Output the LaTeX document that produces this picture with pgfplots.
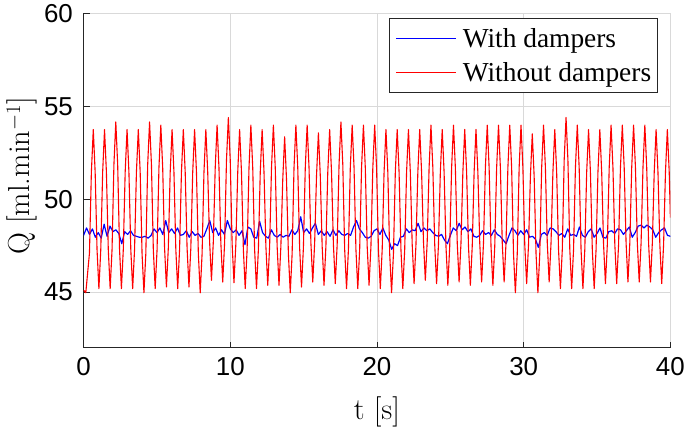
\documentclass[border=0pt]{standalone}
\usepackage{fontspec}
\usepackage{pgfplots}
\pgfplotsset{compat=1.18}
\newfontfamily\tickfont{Liberation Sans}
\newfontfamily\legfont{Liberation Serif}
\begin{document}
\begin{tikzpicture}
\begin{axis}[
  scale only axis, width=586.8bp, height=334.2bp,
  xmin=0, xmax=40, ymin=42, ymax=60,
  xtick={0,10,20,30,40}, ytick={45,50,55,60},
  axis x line*=bottom, axis y line*=left,
  axis line style={-, black!85, line width=0.7bp},
  every outer x axis line/.append style={-},
  every outer y axis line/.append style={-},
  tick align=inside, major tick length=6bp,
  tick style={black!85, line width=0.7bp},
  grid=major, major grid style={black!15, line width=0.9bp},
  /pgf/number format/assume math mode=true,
  ticklabel style={font=\tickfont\fontsize{26}{26}\selectfont, inner sep=0pt},
  xticklabel style={anchor=north, yshift=-10bp},
  yticklabel style={anchor=east, xshift=-10.5bp},
  xlabel={t [s]}, ylabel={Q [ml.min$^{-1}$]},
  label style={font=\fontsize{30.5}{32}\selectfont, inner sep=0pt},
  xlabel style={at={(axis description cs:0.5,-0.1924)}, anchor=center},
  ylabel style={at={(axis description cs:-0.0794,0.514)}, anchor=south},
  legend style={at={(axis description cs:0.9789,0.9865)}, anchor=north east,
    draw=black!85, line width=0.7bp, fill=white,
    font=\legfont\fontsize{27.5}{32}\selectfont,
    inner xsep=6.5bp, inner ysep=4bp, row sep=2bp, column sep=6bp,
    nodes={inner sep=0pt, text height=25bp, text depth=7bp}, cells={anchor=west}},
  legend image code/.code={\draw[#1, line width=1.1bp] (0bp,0bp) -- (60bp,0bp);},
]
\addplot[draw=blue, color=blue, line width=1.2bp, line join=round] coordinates {
(0.0,48.05)(0.2,48.45)(0.4,48.10)(0.6,48.40)(0.8,47.95)(1.0,48.20)(1.2,47.90)(1.4,48.65)(1.6,48.00)(1.8,48.55)
(2.0,48.25)(2.2,48.35)(2.4,48.15)(2.6,47.60)(2.8,48.25)(3.0,48.10)(3.2,48.30)(3.4,48.05)(3.6,48.00)(3.8,47.95)
(4.0,47.95)(4.2,48.00)(4.4,47.90)(4.6,48.05)(4.8,48.40)(5.0,48.20)(5.2,48.45)(5.4,48.10)(5.6,48.85)(5.8,48.20)
(6.0,48.40)(6.2,48.15)(6.4,48.45)(6.6,48.05)(6.8,48.10)(7.0,48.30)(7.2,47.95)(7.4,48.25)(7.6,48.05)(7.8,48.15)
(8.0,47.95)(8.2,48.00)(8.4,48.40)(8.6,48.85)(8.8,48.20)(9.0,48.45)(9.2,48.05)(9.4,48.35)(9.6,48.10)(9.8,48.85)
(10.0,48.40)(10.2,48.20)(10.4,48.35)(10.6,48.05)(10.8,48.30)(11.0,47.55)(11.2,48.50)(11.4,48.40)(11.6,47.95)(11.8,47.90)
(12.0,48.80)(12.2,48.20)(12.4,48.00)(12.6,47.90)(12.8,48.35)(13.0,48.05)(13.2,47.95)(13.4,48.10)(13.6,47.95)(13.8,48.05)
(14.0,48.00)(14.2,48.35)(14.4,48.10)(14.6,48.30)(14.8,49.05)(15.0,48.20)(15.2,48.40)(15.4,48.15)(15.6,48.45)(15.8,48.70)
(16.0,48.10)(16.2,48.30)(16.4,48.05)(16.6,48.25)(16.8,48.00)(17.0,48.35)(17.2,48.05)(17.4,48.30)(17.6,48.10)(17.8,48.05)
(18.0,48.15)(18.2,48.05)(18.4,48.50)(18.6,48.85)(18.8,48.40)(19.0,48.20)(19.2,47.95)(19.4,47.90)(19.6,48.00)(19.8,48.30)
(20.0,48.40)(20.2,48.10)(20.4,48.45)(20.6,48.05)(20.8,47.80)(21.0,47.30)(21.2,47.60)(21.4,47.50)(21.6,47.95)(21.8,48.00)
(22.0,48.40)(22.2,48.20)(22.4,48.35)(22.6,48.30)(22.8,48.70)(23.0,48.25)(23.2,48.45)(23.4,48.30)(23.6,48.40)(23.8,48.20)
(24.0,48.05)(24.2,48.00)(24.4,48.10)(24.6,47.80)(24.8,47.60)(25.0,48.05)(25.2,48.45)(25.4,48.30)(25.6,48.70)(25.8,48.35)
(26.0,48.50)(26.2,48.25)(26.4,48.40)(26.6,48.00)(26.8,47.95)(27.0,48.05)(27.2,48.30)(27.4,48.10)(27.6,48.20)(27.8,48.05)
(28.0,48.35)(28.2,48.10)(28.4,48.00)(28.6,47.80)(28.8,47.60)(29.0,48.05)(29.2,48.45)(29.4,48.30)(29.6,48.05)(29.8,48.30)
(30.0,48.10)(30.2,48.35)(30.4,47.95)(30.6,48.00)(30.8,47.85)(31.0,47.40)(31.2,48.10)(31.4,48.20)(31.6,48.05)(31.8,48.45)
(32.0,48.40)(32.2,48.25)(32.4,48.05)(32.6,48.15)(32.8,47.95)(33.0,48.40)(33.2,48.05)(33.4,48.10)(33.6,48.00)(33.8,48.50)
(34.0,48.05)(34.2,47.95)(34.4,48.25)(34.6,48.40)(34.8,47.95)(35.0,48.15)(35.2,48.45)(35.4,47.95)(35.6,47.90)(35.8,48.25)
(36.0,48.30)(36.2,48.15)(36.4,48.40)(36.6,48.35)(36.8,48.10)(37.0,48.30)(37.2,48.50)(37.4,47.95)(37.6,48.20)(37.8,48.55)
(38.0,48.60)(38.2,48.45)(38.4,48.60)(38.6,48.50)(38.8,48.35)(39.0,47.95)(39.2,48.20)(39.4,48.35)(39.6,48.45)(39.8,48.05)
(40.0,48.00)
};
\addlegendentry{With dampers}
\addplot[draw=red, color=red, line width=1.1bp, line join=round] coordinates {
(0,45.10)(0.15,44.96)(0.40,47.10)(0.53,51.45)(0.660,53.75)(0.788,51.45)(0.916,47.28)
(1.043,45.18)(1.171,47.28)(1.299,51.45)(1.427,53.75)(1.555,51.45)(1.683,47.28)
(1.811,45.18)(1.939,47.28)(2.067,51.86)(2.195,54.16)(2.323,51.86)(2.451,47.28)
(2.578,45.18)(2.706,47.28)(2.834,51.45)(2.962,53.75)(3.090,51.45)(3.218,47.28)
(3.345,45.18)(3.473,47.28)(3.601,51.45)(3.729,53.75)(3.857,51.45)(3.985,47.06)
(4.113,44.96)(4.241,47.06)(4.369,51.86)(4.497,54.16)(4.625,51.86)(4.753,47.28)
(4.880,45.18)(5.008,47.28)(5.136,51.69)(5.264,53.99)(5.392,51.69)(5.520,47.37)
(5.647,45.27)(5.775,47.37)(5.903,51.45)(6.031,53.75)(6.159,51.45)(6.287,47.28)
(6.414,45.18)(6.542,47.28)(6.670,51.45)(6.798,53.75)(6.926,51.45)(7.054,47.37)
(7.182,45.27)(7.310,47.37)(7.438,51.45)(7.566,53.75)(7.694,51.45)(7.822,47.06)
(7.949,44.96)(8.077,47.06)(8.205,51.45)(8.333,53.75)(8.461,51.45)(8.589,47.73)
(8.716,45.63)(8.844,47.73)(8.972,51.69)(9.100,53.99)(9.228,51.69)(9.356,47.64)
(9.484,45.54)(9.612,47.64)(9.740,52.10)(9.868,54.40)(9.996,52.10)(10.124,47.60)
(10.251,45.50)(10.379,47.60)(10.507,51.45)(10.635,53.75)(10.763,51.45)(10.891,47.28)
(11.018,45.18)(11.146,47.28)(11.274,51.69)(11.402,53.99)(11.530,51.69)(11.658,47.28)
(11.786,45.18)(11.914,47.28)(12.042,51.45)(12.170,53.75)(12.298,51.45)(12.426,47.46)
(12.553,45.36)(12.681,47.46)(12.809,51.69)(12.937,53.99)(13.065,51.69)(13.193,47.46)
(13.320,45.36)(13.448,47.46)(13.576,51.06)(13.704,53.36)(13.832,51.06)(13.960,47.06)
(14.087,44.96)(14.215,47.06)(14.343,51.69)(14.471,53.99)(14.599,51.69)(14.727,47.37)
(14.855,45.27)(14.983,47.37)(15.111,51.69)(15.239,53.99)(15.367,51.69)(15.495,47.64)
(15.622,45.54)(15.750,47.64)(15.878,51.27)(16.006,53.57)(16.134,51.27)(16.262,47.46)
(16.389,45.36)(16.517,47.46)(16.645,51.45)(16.773,53.75)(16.901,51.45)(17.029,47.55)
(17.157,45.45)(17.285,47.55)(17.413,51.86)(17.541,54.16)(17.669,51.86)(17.797,47.28)
(17.924,45.18)(18.052,47.28)(18.180,51.69)(18.308,53.99)(18.436,51.69)(18.564,47.28)
(18.691,45.18)(18.819,47.28)(18.947,51.69)(19.075,53.99)(19.203,51.69)(19.331,47.46)
(19.459,45.36)(19.587,47.46)(19.715,51.69)(19.843,53.99)(19.971,51.69)(20.099,47.28)
(20.226,45.18)(20.354,47.28)(20.482,51.45)(20.610,53.75)(20.738,51.45)(20.866,47.06)
(20.993,44.96)(21.121,47.06)(21.249,51.45)(21.377,53.75)(21.505,51.45)(21.633,47.28)
(21.760,45.18)(21.888,47.28)(22.016,51.45)(22.144,53.75)(22.272,51.45)(22.400,47.55)
(22.528,45.45)(22.656,47.55)(22.784,51.45)(22.912,53.75)(23.040,51.45)(23.168,47.73)
(23.295,45.63)(23.423,47.73)(23.551,51.69)(23.679,53.99)(23.807,51.69)(23.935,47.55)
(24.062,45.45)(24.190,47.55)(24.318,51.45)(24.446,53.75)(24.574,51.45)(24.702,47.46)
(24.830,45.36)(24.958,47.46)(25.086,51.69)(25.214,53.99)(25.342,51.69)(25.470,47.64)
(25.597,45.54)(25.725,47.64)(25.853,51.45)(25.981,53.75)(26.109,51.45)(26.237,47.46)
(26.364,45.36)(26.492,47.46)(26.620,51.45)(26.748,53.75)(26.876,51.45)(27.004,47.64)
(27.132,45.54)(27.260,47.64)(27.388,51.69)(27.516,53.99)(27.644,51.69)(27.772,47.46)
(27.899,45.36)(28.027,47.46)(28.155,51.69)(28.283,53.99)(28.411,51.69)(28.539,47.64)
(28.666,45.54)(28.794,47.64)(28.922,51.69)(29.050,53.99)(29.178,51.69)(29.306,47.06)
(29.433,44.96)(29.561,47.06)(29.689,51.69)(29.817,53.99)(29.945,51.69)(30.073,47.55)
(30.201,45.45)(30.329,47.55)(30.457,51.22)(30.585,53.52)(30.713,51.22)(30.841,47.06)
(30.968,44.96)(31.096,47.06)(31.224,51.69)(31.352,53.99)(31.480,51.69)(31.608,47.64)
(31.735,45.54)(31.863,47.64)(31.991,51.45)(32.119,53.75)(32.247,51.45)(32.375,47.28)
(32.503,45.18)(32.631,47.28)(32.759,52.10)(32.887,54.40)(33.015,52.10)(33.143,47.28)
(33.270,45.18)(33.398,47.28)(33.526,51.69)(33.654,53.99)(33.782,51.69)(33.910,47.28)
(34.037,45.18)(34.165,47.28)(34.293,51.45)(34.421,53.75)(34.549,51.45)(34.677,47.28)
(34.805,45.18)(34.933,47.28)(35.061,51.45)(35.189,53.75)(35.317,51.45)(35.445,47.55)
(35.572,45.45)(35.700,47.55)(35.828,51.69)(35.956,53.99)(36.084,51.69)(36.212,47.55)
(36.339,45.45)(36.467,47.55)(36.595,51.69)(36.723,53.99)(36.851,51.69)(36.979,47.64)
(37.106,45.54)(37.234,47.64)(37.362,51.69)(37.490,53.99)(37.618,51.69)(37.746,47.64)
(37.874,45.54)(38.002,47.64)(38.130,51.69)(38.258,53.99)(38.386,51.69)(38.514,47.64)
(38.641,45.54)(38.769,47.64)(38.897,51.45)(39.025,53.75)(39.153,51.45)(39.281,47.55)
(39.408,45.45)(39.536,47.55)(39.664,51.45)(39.792,53.75)(39.920,51.45)(40.000,49.00)
};
\addlegendentry{Without dampers}
\end{axis}
\pgfresetboundingbox
\useasboundingbox (-83.6bp,-81.3bp) rectangle (601.4bp,347.7bp);
\end{tikzpicture}
\end{document}
